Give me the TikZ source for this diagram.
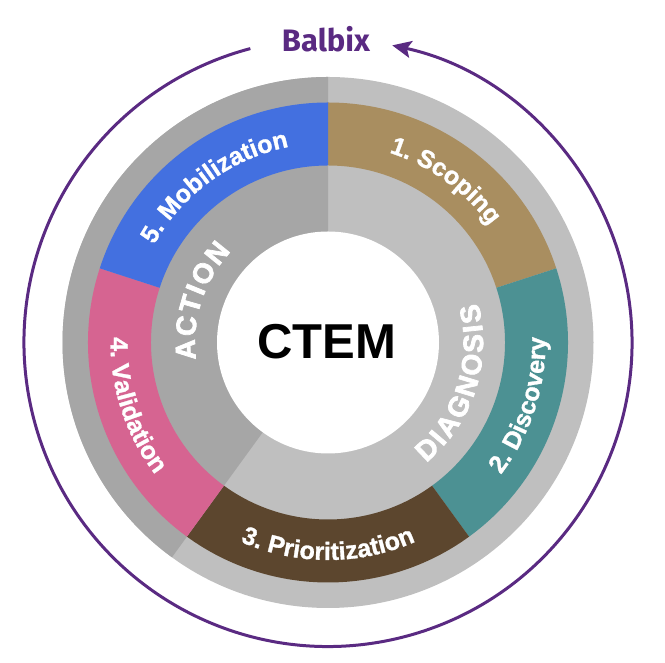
\documentclass[tikz,border=0pt]{standalone}
\usepackage{fontspec}
\setmainfont{Liberation Sans}
\newfontfamily\balbixfont{Fira Sans}
\newfontfamily\segfont{Liberation Sans Bold}
\newfontfamily\heavyfont[FakeBold=1.2]{Liberation Sans Bold}
\newfontfamily\ringheavy[FakeBold=2.6]{Liberation Sans Bold}
\usetikzlibrary{decorations.text,arrows.meta,calc}
\definecolor{darkgr}{HTML}{A6A6A6}
\definecolor{lightgr}{HTML}{BFBFBF}
\definecolor{scopec}{HTML}{A98E60}
\definecolor{discc}{HTML}{4C9193}
\definecolor{prioc}{HTML}{5C462E}
\definecolor{validc}{HTML}{D66491}
\definecolor{mobc}{HTML}{4370E0}
\definecolor{balbixc}{HTML}{5A2A82}
\newcommand{\labelfont}{\heavyfont\fontsize{25}{29}\selectfont}
\newcommand{\ringlabelfont}{\ringheavy\fontsize{28}{32}\selectfont}
\newcommand{\mysector}[5]{\fill[#1] ($(C)+(#2:#4)$) arc[start angle=#2,end angle=#3,radius=#4] -- ($(C)+(#3:#5)$) arc[start angle=#3,end angle=#2,radius=#5] -- cycle;}
\newcommand{\arclabel}[5]{\path[decorate,decoration={text along path,text align=center,text color=white,text={|#5|#4}}] ($(C)+(#1:#3)$) arc[start angle=#1,end angle=#2,radius=#3];}
\begin{document}
\begin{tikzpicture}[x=1pt,y=1pt]
\useasboundingbox (0,0) rectangle (665,663);
\coordinate (C) at (328,320.5);
% gray rings
\fill[lightgr] (C) circle (265.5pt);
\fill[darkgr] (C) -- ($(C)+(90:265.5pt)$) arc[start angle=90,end angle=234,radius=265.5pt] -- cycle;
% coloured segments
\mysector{scopec}{18}{90}{240pt}{177pt}
\mysector{discc}{-54}{18}{240pt}{177pt}
\mysector{prioc}{-126}{-54}{240pt}{177pt}
\mysector{validc}{162}{234}{240pt}{177pt}
\mysector{mobc}{90}{162}{240pt}{177pt}
% centre
\fill[white] (C) circle (111pt);
\node[font=\segfont\fontsize{49}{49}\selectfont, anchor=base] (ctem) at (327,304) {CTEM};
% labels
\arclabel{162}{90}{199.5pt}{5. Mobilization}{\labelfont}
\arclabel{90}{18}{199.5pt}{1. Scoping}{\labelfont}
\arclabel{-54}{18}{217.5pt}{2. Discovery}{\labelfont}
\arclabel{-126}{-54}{217.5pt}{3. Prioritization}{\labelfont}
\arclabel{162}{234}{217.5pt}{4. Validation}{\labelfont}
\arclabel{234}{90}{133pt}{{A\kern2pt}{C\kern2pt}{T\kern2pt}{I\kern2pt}{O\kern2pt}N}{\ringlabelfont}
\arclabel{234}{450}{155pt}{{D\kern2.5pt}{I\kern2.5pt}{A\kern2.5pt}{G\kern2.5pt}{N\kern2.5pt}{O\kern2.5pt}{S\kern2.5pt}{I\kern2.5pt}S}{\ringlabelfont}
% outer cycle arrow
\draw[balbixc, line width=3pt, -{Stealth[length=19pt,width=17pt,inset=4pt]}] ($(C)+(104.8:304pt)$) arc[start angle=104.8,end angle=437.8,radius=304pt];
\node[font=\balbixfont\fontsize{31}{34}\selectfont\bfseries, text=balbixc, anchor=base] (balbix) at (326,611) {Balbix};
\end{tikzpicture}
\end{document}
